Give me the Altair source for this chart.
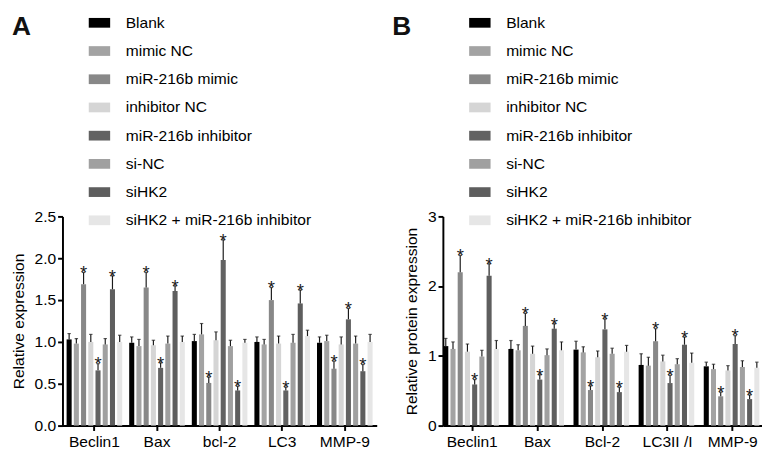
import altair as alt
import pandas as pd

groups = ["Blank", "mimic NC", "miR-216b mimic", "inhibitor NC",
          "miR-216b inhibitor", "si-NC", "siHK2", "siHK2 + miR-216b inhibitor"]
colors = ["#000000", "#a3a3a3", "#888888", "#d5d5d5",
          "#626262", "#a0a0a0", "#5e5e5e", "#e6e6e6"]

# Panel A: relative expression (qPCR)
genes_a = ["Beclin1", "Bax", "bcl-2", "LC3", "MMP-9"]
means_a = [
    [1.03, 0.98, 1.69, 1.00, 0.66, 0.97, 1.63, 1.00],
    [0.99, 0.95, 1.65, 0.96, 0.69, 0.98, 1.61, 1.00],
    [1.01, 1.09, 0.51, 1.02, 1.98, 0.95, 0.42, 0.99],
    [1.00, 0.97, 1.50, 0.98, 0.42, 0.99, 1.46, 1.07],
    [0.99, 1.01, 0.68, 0.97, 1.27, 0.98, 0.65, 1.00],
]
errs_a = [
    [0.07, 0.06, 0.14, 0.09, 0.08, 0.07, 0.16, 0.08],
    [0.07, 0.08, 0.18, 0.06, 0.06, 0.09, 0.06, 0.07],
    [0.08, 0.13, 0.07, 0.10, 0.24, 0.07, 0.05, 0.04],
    [0.06, 0.06, 0.15, 0.09, 0.04, 0.10, 0.16, 0.07],
    [0.07, 0.07, 0.09, 0.09, 0.13, 0.09, 0.08, 0.09],
]
stars_a = [
    [0, 0, 1, 0, 1, 0, 1, 0],
    [0, 0, 1, 0, 1, 0, 1, 0],
    [0, 0, 1, 0, 1, 0, 1, 0],
    [0, 0, 1, 0, 1, 0, 1, 0],
    [0, 0, 1, 0, 1, 0, 1, 0],
]

# Panel B: relative protein expression (western blot)
genes_b = ["Beclin1", "Bax", "Bcl-2", "LC3II /I", "MMP-9"]
means_b = [
    [1.14, 1.10, 2.20, 1.06, 0.59, 0.99, 2.15, 1.10],
    [1.10, 1.08, 1.43, 1.03, 0.66, 1.01, 1.39, 1.08],
    [1.09, 1.05, 0.51, 0.98, 1.38, 1.03, 0.48, 1.06],
    [0.87, 0.86, 1.21, 0.92, 0.61, 0.88, 1.16, 0.90],
    [0.85, 0.81, 0.42, 0.79, 1.17, 0.84, 0.38, 0.83],
]
errs_b = [
    [0.11, 0.10, 0.24, 0.11, 0.07, 0.09, 0.17, 0.12],
    [0.12, 0.08, 0.18, 0.11, 0.07, 0.09, 0.07, 0.12],
    [0.12, 0.08, 0.06, 0.09, 0.15, 0.08, 0.07, 0.09],
    [0.16, 0.12, 0.18, 0.09, 0.11, 0.08, 0.11, 0.14],
    [0.06, 0.07, 0.06, 0.07, 0.12, 0.09, 0.06, 0.08],
]
stars_b = [
    [0, 0, 1, 0, 1, 0, 1, 0],
    [0, 0, 1, 0, 1, 0, 1, 0],
    [0, 0, 1, 0, 1, 0, 1, 0],
    [0, 0, 1, 0, 1, 0, 1, 0],
    [0, 0, 1, 0, 1, 0, 1, 0],
]

FONT = "Liberation Sans"


def make_df(genes, means, errs, stars):
    rows = []
    for g, m, e, s in zip(genes, means, errs, stars):
        for grp, mv, ev, sv in zip(groups, m, e, s):
            rows.append(dict(gene=g, group=grp, mean=mv,
                             top=round(mv + ev, 3), star="*" if sv else ""))
    return pd.DataFrame(rows)


def panel(df, genes, ytitle, ymax, yvals, yfmt, letter, width, height, pout):
    x = alt.X("gene:N", sort=genes, title=None,
              scale=alt.Scale(paddingInner=0.1, paddingOuter=pout),
              axis=alt.Axis(labelAngle=0, labelPadding=3))
    xo = alt.XOffset("group:N", sort=groups,
                     scale=alt.Scale(paddingInner=0.3, paddingOuter=0.05))
    yscale = alt.Scale(domain=[0, ymax], nice=False)
    base = alt.Chart(df).encode(x=x, xOffset=xo)
    bars = base.mark_bar().encode(
        y=alt.Y("mean:Q", scale=yscale, title=ytitle,
                axis=alt.Axis(values=yvals, format=yfmt, titlePadding=8)),
        color=alt.Color(
            "group:N", sort=groups,
            scale=alt.Scale(domain=groups, range=colors),
            legend=alt.Legend(
                title=None, orient="none", legendX=30, legendY=-207,
                padding=0,
                symbolType="M-2.2,-1H2.2V1H-2.2Z", symbolSize=100,
                symbolStrokeWidth=0, symbolOpacity=1,
                labelFontSize=16, labelFont=FONT, labelColor="black",
                labelOffset=19, rowPadding=13, labelLimit=400,
            ),
        ),
    )
    rule = base.mark_rule(color="#1a1a1a", strokeWidth=1.2).encode(
        y="mean:Q", y2="top:Q")
    cap = base.mark_tick(color="#1a1a1a", thickness=1.2, size=3.5).encode(
        y="top:Q")
    star = base.mark_text(fontSize=19, font=FONT, color="#1a1a1a",
                          baseline="alphabetic", dy=7).encode(
        y="top:Q", text="star:N")
    lab = alt.Chart(pd.DataFrame({"t": [letter]})).mark_text(
        fontSize=27, fontWeight="bold", font=FONT, align="left",
        baseline="alphabetic", color="#111111"
    ).encode(x=alt.value(-52), y=alt.value(-186), text="t:N")
    return alt.layer(bars, rule, cap, star, lab).properties(
        width=width, height=height)


pa = panel(make_df(genes_a, means_a, errs_a, stars_a), genes_a,
           "Relative expression", 2.5, [0, 0.5, 1.0, 1.5, 2.0, 2.5], ".1f",
           "A", 323, 215, 0.06)
pb = panel(make_df(genes_b, means_b, errs_b, stars_b), genes_b,
           "Relative protein expression", 3, [0, 1, 2, 3], "d",
           "B", 328, 215, 0.0)

chart = alt.hconcat(pa, pb, spacing=16).resolve_scale(
    color="independent").resolve_legend(color="independent").configure_axis(
    domainColor="black", domainWidth=2, tickColor="black", tickWidth=2,
    tickSize=5, labelColor="black", labelFontSize=16, labelFont=FONT,
    titleFontSize=16, titleFont=FONT, titleFontWeight="normal",
    titleColor="black", grid=False
).configure_view(stroke=None).properties(
    padding={"left": 2, "top": 0, "right": 0, "bottom": 0})

chart.save("out.html", embed_options={"renderer": "svg", "actions": False})
